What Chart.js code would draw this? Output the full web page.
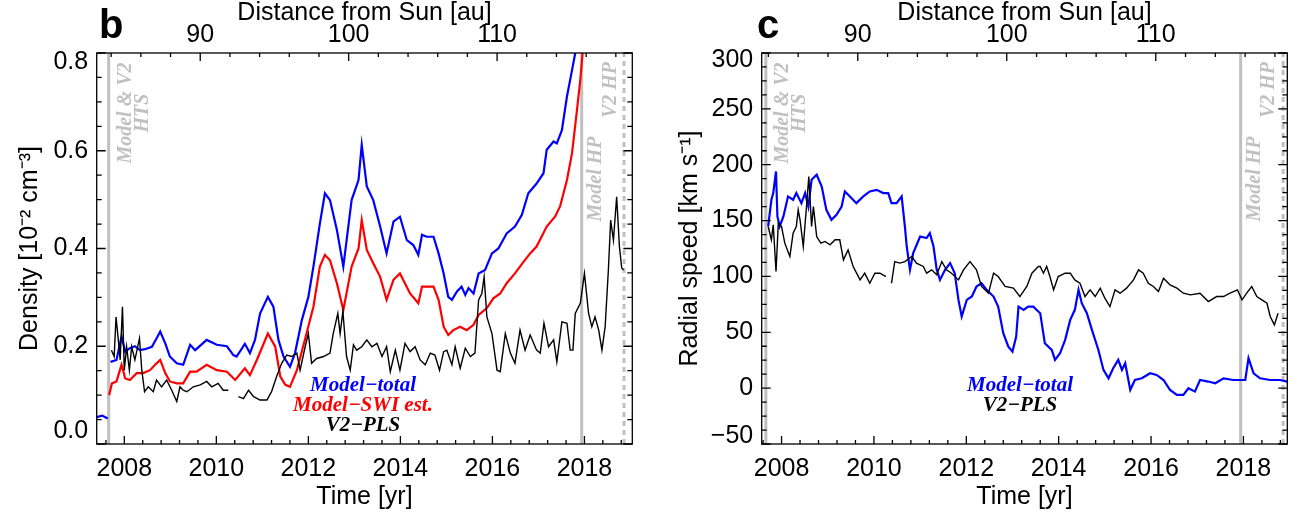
<!DOCTYPE html>
<html>
<head>
<meta charset="utf-8">
<script src="https://cdn.jsdelivr.net/npm/chart.js@4.4.1/dist/chart.umd.min.js"></script>
<style>
  html, body { margin: 0; padding: 0; background: #fff; }
  #wrap { position: relative; width: 1305px; height: 516px; }
  canvas { position: absolute; top: 0; }
  #cb { left: 0; }
  #cc { left: 650px; }
</style>
</head>
<body>
<div id="wrap">
  <canvas id="cb" width="650" height="516"></canvas>
  <canvas id="cc" width="655" height="516"></canvas>
</div>
<script>
'use strict';
var FONT = '"Liberation Sans", Arial, Helvetica, sans-serif';
var SERIF = '"Liberation Serif", "Times New Roman", serif';

// tick values
var yearTicks = [2008, 2010, 2012, 2014, 2016, 2018];
var distTicks = [90, 100, 110];
var densTicks = [0, 0.2, 0.4, 0.6, 0.8];
var speedTicks = [-50, 0, 50, 100, 150, 200, 250, 300];

// boundary crossings [yr]
var htsYear = 2007.66;
var modelHpYear = 2017.94;
var v2HpYear = 2018.86;

// Voyager 2 distance, roughly linear in time
var v2RefYear = 2009.65, v2RefAu = 90, v2AuPerYr = 3.1;
function yearAtAu(au) { return v2RefYear + (au - v2RefAu) / v2AuPerYr; }
function auAtYear(yr) { return v2RefAu + (yr - v2RefYear) * v2AuPerYr; }

// panel b: density [10^-2 cm^-3]
var densTotalYr = [2007.40, 2007.52, 2007.64, 2007.66, 2007.70, 2007.83, 2007.94, 2008.02, 2008.12, 2008.23, 2008.34, 2008.45, 2008.60, 2008.70, 2008.78, 2008.89, 2008.99, 2009.14, 2009.28, 2009.43, 2009.54, 2009.79, 2010.01, 2010.23, 2010.37, 2010.44, 2010.62, 2010.73, 2010.84, 2010.95, 2011.12, 2011.24, 2011.35, 2011.46, 2011.60, 2011.71, 2011.86, 2012.00, 2012.11, 2012.25, 2012.36, 2012.47, 2012.62, 2012.76, 2012.94, 2013.09, 2013.16, 2013.27, 2013.41, 2013.56, 2013.70, 2013.85, 2013.99, 2014.14, 2014.28, 2014.39, 2014.47, 2014.57, 2014.72, 2014.83, 2014.94, 2015.04, 2015.12, 2015.23, 2015.33, 2015.41, 2015.48, 2015.59, 2015.70, 2015.84, 2015.99, 2016.13, 2016.31, 2016.49, 2016.64, 2016.78, 2016.96, 2017.11, 2017.18, 2017.33, 2017.40, 2017.51, 2017.62, 2017.73, 2017.80, 2017.85];
var densTotalVal = [0.055, 0.058, 0.052, null, 0.168, 0.172, 0.220, 0.189, 0.196, 0.200, 0.192, 0.194, 0.199, 0.216, 0.230, 0.206, 0.179, 0.165, 0.162, 0.203, 0.192, 0.213, 0.203, 0.200, 0.182, 0.179, 0.205, 0.186, 0.213, 0.267, 0.301, 0.281, 0.213, 0.179, 0.158, 0.186, 0.254, 0.301, 0.363, 0.451, 0.513, 0.499, 0.438, 0.363, 0.499, 0.540, 0.612, 0.527, 0.499, 0.445, 0.390, 0.455, 0.465, 0.417, 0.407, 0.387, 0.428, 0.424, 0.424, 0.390, 0.349, 0.301, 0.295, 0.312, 0.322, 0.305, 0.319, 0.308, 0.349, 0.356, 0.390, 0.400, 0.431, 0.445, 0.469, 0.513, 0.533, 0.554, 0.602, 0.619, 0.615, 0.642, 0.711, 0.765, 0.800, 0.850];

var densSwiYr = [2007.67, 2007.73, 2007.83, 2007.94, 2008.02, 2008.12, 2008.27, 2008.41, 2008.56, 2008.70, 2008.78, 2008.89, 2008.99, 2009.14, 2009.28, 2009.43, 2009.57, 2009.79, 2010.01, 2010.23, 2010.41, 2010.62, 2010.73, 2010.88, 2011.12, 2011.28, 2011.39, 2011.50, 2011.60, 2011.75, 2011.96, 2012.11, 2012.25, 2012.36, 2012.47, 2012.62, 2012.76, 2012.94, 2013.09, 2013.16, 2013.27, 2013.41, 2013.56, 2013.70, 2013.85, 2013.99, 2014.21, 2014.39, 2014.47, 2014.72, 2014.83, 2014.94, 2015.04, 2015.15, 2015.30, 2015.44, 2015.59, 2015.70, 2015.88, 2016.02, 2016.17, 2016.31, 2016.49, 2016.68, 2016.82, 2016.96, 2017.18, 2017.36, 2017.47, 2017.62, 2017.73, 2017.83, 2017.91, 2017.96, 2017.99];
var densSwiVal = [0.100, 0.124, 0.128, 0.162, 0.134, 0.131, 0.145, 0.145, 0.151, 0.165, 0.172, 0.145, 0.128, 0.124, 0.124, 0.148, 0.148, 0.162, 0.151, 0.148, 0.131, 0.155, 0.141, 0.172, 0.226, 0.199, 0.138, 0.121, 0.117, 0.151, 0.226, 0.281, 0.363, 0.387, 0.376, 0.329, 0.274, 0.363, 0.400, 0.458, 0.397, 0.370, 0.342, 0.295, 0.336, 0.349, 0.308, 0.288, 0.322, 0.322, 0.295, 0.240, 0.223, 0.233, 0.240, 0.233, 0.244, 0.264, 0.278, 0.298, 0.308, 0.329, 0.349, 0.373, 0.390, 0.404, 0.445, 0.465, 0.486, 0.540, 0.595, 0.677, 0.745, 0.800, 0.860];

var densPlsYr = [2007.72, 2007.78, 2007.82, 2007.87, 2007.91, 2007.96, 2008.00, 2008.05, 2008.11, 2008.16, 2008.23, 2008.33, 2008.38, 2008.44, 2008.52, 2008.63, 2008.70, 2008.81, 2008.92, 2009.03, 2009.14, 2009.21, 2009.28, 2009.36, 2009.50, 2009.65, 2009.79, 2009.90, 2010.04, 2010.15, 2010.26, 2010.37, 2010.48, 2010.59, 2010.70, 2010.81, 2010.95, 2011.10, 2011.20, 2011.31, 2011.42, 2011.53, 2011.64, 2011.75, 2011.82, 2011.93, 2012.00, 2012.07, 2012.18, 2012.33, 2012.47, 2012.54, 2012.64, 2012.69, 2012.75, 2012.83, 2012.91, 2012.98, 2013.05, 2013.16, 2013.27, 2013.38, 2013.49, 2013.60, 2013.70, 2013.78, 2013.89, 2013.99, 2014.10, 2014.21, 2014.32, 2014.43, 2014.54, 2014.65, 2014.75, 2014.85, 2014.94, 2015.01, 2015.12, 2015.19, 2015.30, 2015.41, 2015.52, 2015.62, 2015.70, 2015.77, 2015.82, 2015.88, 2015.99, 2016.10, 2016.17, 2016.28, 2016.39, 2016.49, 2016.60, 2016.71, 2016.82, 2016.96, 2017.04, 2017.12, 2017.22, 2017.33, 2017.40, 2017.51, 2017.62, 2017.69, 2017.75, 2017.80, 2017.91, 2018.00, 2018.09, 2018.16, 2018.23, 2018.31, 2018.38, 2018.45, 2018.52, 2018.57, 2018.63, 2018.70, 2018.76, 2018.81, 2018.85];
var densPlsVal = [0.192, 0.179, 0.260, 0.213, 0.172, 0.281, 0.151, 0.199, 0.151, 0.199, 0.172, 0.216, 0.151, 0.107, 0.117, 0.107, 0.131, 0.117, 0.131, 0.110, 0.087, 0.117, 0.110, 0.107, 0.117, 0.121, 0.128, 0.117, 0.124, 0.110, 0.110, null, 0.097, 0.093, 0.110, 0.097, 0.090, 0.090, 0.107, 0.138, 0.165, 0.182, 0.179, 0.186, 0.151, 0.199, 0.226, 0.165, 0.175, 0.179, 0.186, 0.226, 0.267, 0.226, 0.271, 0.179, 0.151, 0.203, 0.192, 0.199, 0.213, 0.199, 0.206, 0.179, 0.199, 0.148, 0.192, 0.151, 0.206, 0.189, 0.199, 0.172, 0.162, 0.186, 0.182, 0.151, 0.189, 0.192, 0.162, 0.199, 0.155, 0.196, 0.179, 0.186, 0.295, 0.308, 0.342, 0.260, 0.226, 0.151, 0.148, 0.226, 0.186, 0.165, 0.233, 0.192, 0.223, 0.192, 0.186, 0.247, 0.199, 0.213, 0.168, 0.250, 0.247, 0.192, 0.192, 0.267, 0.288, 0.349, 0.267, 0.240, 0.260, 0.233, 0.192, 0.240, 0.356, 0.458, 0.417, 0.506, 0.404, 0.360, 0.356];

// panel c: radial speed [km/s]
var speedTotalYr = [2007.71, 2007.78, 2007.82, 2007.88, 2007.91, 2007.96, 2008.04, 2008.14, 2008.25, 2008.32, 2008.43, 2008.51, 2008.58, 2008.65, 2008.76, 2008.87, 2008.97, 2009.08, 2009.19, 2009.30, 2009.37, 2009.48, 2009.62, 2009.77, 2009.91, 2010.06, 2010.20, 2010.31, 2010.38, 2010.49, 2010.60, 2010.67, 2010.71, 2010.78, 2010.85, 2011.00, 2011.14, 2011.21, 2011.29, 2011.36, 2011.43, 2011.54, 2011.65, 2011.75, 2011.83, 2011.90, 2012.01, 2012.12, 2012.22, 2012.33, 2012.44, 2012.59, 2012.69, 2012.80, 2012.91, 2013.00, 2013.08, 2013.13, 2013.24, 2013.34, 2013.45, 2013.56, 2013.60, 2013.70, 2013.85, 2013.92, 2014.03, 2014.14, 2014.25, 2014.35, 2014.43, 2014.50, 2014.61, 2014.72, 2014.86, 2014.97, 2015.08, 2015.18, 2015.29, 2015.37, 2015.44, 2015.55, 2015.65, 2015.80, 2015.98, 2016.12, 2016.27, 2016.41, 2016.56, 2016.70, 2016.81, 2016.95, 2017.06, 2017.24, 2017.39, 2017.57, 2017.78, 2017.89, 2018.04, 2018.11, 2018.22, 2018.36, 2018.58, 2018.79, 2018.95];
var speedTotalVal = [144.7, 168.6, 174.6, 194.0, 153.7, 144.7, 153.7, 171.6, 168.6, 174.6, 165.6, 174.6, 162.6, 186.5, 191.0, 180.5, 159.6, 150.7, 155.2, 162.6, 176.1, 171.6, 165.6, 171.6, 176.1, 177.5, 174.6, 174.6, 165.6, 165.6, 171.6, 144.7, 126.8, 105.9, 120.8, 135.7, 134.3, 138.7, 126.8, 105.9, 96.9, 105.9, 111.9, 102.9, 79.0, 64.1, 79.0, 82.0, 91.0, 93.9, 88.0, 82.0, 73.0, 49.2, 37.2, 32.7, 46.2, 73.0, 70.1, 73.0, 73.0, 68.6, 67.1, 40.2, 34.2, 25.3, 31.2, 43.2, 61.1, 70.1, 88.0, 76.0, 67.1, 52.1, 34.2, 16.3, 8.8, 17.8, 25.3, 16.3, 22.3, -1.6, 7.3, 8.8, 13.3, 11.8, 7.3, -1.6, -6.1, -6.1, -0.1, -3.1, 7.3, 5.9, 4.4, 8.8, 7.3, 7.3, 7.3, 26.8, 13.3, 8.8, 7.3, 7.3, 5.9];

var speedPlsYr = [2007.71, 2007.78, 2007.82, 2007.88, 2007.93, 2008.00, 2008.07, 2008.18, 2008.25, 2008.32, 2008.36, 2008.40, 2008.47, 2008.54, 2008.59, 2008.65, 2008.69, 2008.76, 2008.85, 2008.94, 2009.05, 2009.16, 2009.26, 2009.34, 2009.44, 2009.55, 2009.70, 2009.80, 2009.91, 2010.02, 2010.13, 2010.26, 2010.32, 2010.38, 2010.45, 2010.56, 2010.67, 2010.82, 2010.92, 2011.07, 2011.14, 2011.25, 2011.36, 2011.47, 2011.57, 2011.68, 2011.83, 2011.94, 2012.08, 2012.22, 2012.33, 2012.48, 2012.59, 2012.69, 2012.84, 2013.02, 2013.16, 2013.31, 2013.42, 2013.56, 2013.60, 2013.67, 2013.74, 2013.81, 2013.89, 2013.99, 2014.14, 2014.25, 2014.35, 2014.46, 2014.57, 2014.68, 2014.79, 2014.90, 2015.00, 2015.11, 2015.22, 2015.33, 2015.47, 2015.62, 2015.73, 2015.83, 2015.94, 2016.05, 2016.16, 2016.27, 2016.41, 2016.56, 2016.70, 2016.85, 2017.06, 2017.24, 2017.42, 2017.57, 2017.71, 2017.87, 2017.97, 2018.07, 2018.18, 2018.29, 2018.40, 2018.51, 2018.58, 2018.67, 2018.75];
var speedPlsVal = [144.7, 132.8, 146.2, 104.4, 147.7, 144.7, 129.8, 117.8, 138.7, 144.7, 159.6, 150.7, 126.8, 162.6, 189.5, 144.7, 162.6, 135.7, 129.8, 131.3, 128.3, 132.8, 132.8, 114.8, 123.8, 108.9, 96.9, 102.9, 93.9, 102.9, 102.9, 99.9, null, 93.9, 113.3, 111.9, 113.3, 117.8, 111.9, 108.9, 102.9, 105.9, 101.4, 113.3, 105.9, 102.9, 96.9, 105.9, 113.3, 105.9, 91.0, 85.0, 102.9, 99.9, 91.0, 89.5, 82.0, 91.0, 102.9, 108.9, 108.9, 102.9, 108.9, 99.9, 88.0, 99.9, 102.9, 102.9, 96.9, 93.9, 82.0, 88.0, 82.0, 89.5, 80.5, 73.0, 88.0, 85.0, 89.5, 96.9, 105.9, 102.9, 93.9, 91.0, 86.5, 98.4, 92.5, 89.5, 85.0, 83.5, 85.0, 77.5, 82.0, 82.0, 85.0, 88.0, 79.0, 85.0, 91.0, 82.0, 79.0, 76.0, 64.1, 56.6, 67.1];

function pts(xs, ys) {
    return xs.map(function (x, i) { return { x: x, y: ys[i] }; });
}

function series(xs, ys, color, width) {
    return { data: pts(xs, ys), borderColor: color, borderWidth: width, pointRadius: 0, tension: 0, spanGaps: false };
}

function vline(year, yMin, yMax, dashed) {
    return {
        data: [{ x: year, y: yMin }, { x: year, y: yMax }],
        borderColor: '#c0c0c0', borderWidth: 3, borderDash: dashed ? [5, 4] : [], pointRadius: 0
    };
}

// box frame with inward ticks on all four sides
var frameTicks = {
    id: 'frameTicks',
    afterDatasetsDraw: function (chart, args, o) {
        var ctx = chart.ctx, a = chart.chartArea;
        var xs = chart.scales.x, ys = chart.scales.y;
        ctx.save();
        ctx.strokeStyle = '#000';
        ctx.lineWidth = 1.3;
        ctx.strokeRect(a.left, a.top, a.right - a.left, a.bottom - a.top);
        ctx.beginPath();
        // time ticks (bottom)
        for (var k = Math.ceil((xs.min - 2008) / 0.4); 2008 + k * 0.4 <= xs.max; k++) {
            var px = xs.getPixelForValue(2008 + k * 0.4);
            var len = (k % 5 === 0) ? 8 : 4;
            ctx.moveTo(px, a.bottom); ctx.lineTo(px, a.bottom - len);
        }
        // distance ticks (top)
        for (var au = Math.ceil(auAtYear(xs.min) / 2) * 2; au <= auAtYear(xs.max); au += 2) {
            var tx = xs.getPixelForValue(yearAtAu(au));
            var tl = (au % 10 === 0) ? 8 : 4;
            ctx.moveTo(tx, a.top); ctx.lineTo(tx, a.top + tl);
        }
        // value ticks (left and right)
        for (var j = Math.ceil(ys.min / o.yMinor - 1e-6); j * o.yMinor <= ys.max + 1e-6; j++) {
            var v = j * o.yMinor;
            var py = ys.getPixelForValue(v);
            var major = Math.abs(v / o.yMajor - Math.round(v / o.yMajor)) < 1e-6;
            var yl = major ? 9 : 5;
            ctx.moveTo(a.left, py); ctx.lineTo(a.left + yl, py);
            ctx.moveTo(a.right, py); ctx.lineTo(a.right - yl, py);
        }
        ctx.stroke();
        ctx.restore();
    }
};

// panel letter, boundary labels and the text legend
var panelText = {
    id: 'panelText',
    afterDraw: function (chart, args, o) {
        var ctx = chart.ctx, xs = chart.scales.x;
        ctx.save();
        ctx.fillStyle = '#000';
        ctx.font = 'bold 40px ' + FONT;
        ctx.textAlign = 'left';
        ctx.textBaseline = 'alphabetic';
        ctx.fillText(o.letter, o.letterX, 38);

        ctx.font = 'bold italic 20px ' + SERIF;
        ctx.fillStyle = '#c0c0c0';
        ctx.textAlign = 'center';
        ctx.textBaseline = 'middle';
        o.marks.forEach(function (m) {
            m.lines.forEach(function (t, i) {
                ctx.save();
                ctx.translate(xs.getPixelForValue(m.year) + m.dx[i], m.y);
                ctx.rotate(-Math.PI / 2);
                ctx.fillText(t, 0, 0);
                ctx.restore();
            });
        });

        ctx.font = 'bold italic 21px ' + SERIF;
        o.legend.forEach(function (l, i) {
            ctx.fillStyle = l.color;
            ctx.fillText(l.text, o.legendX, o.legendY + i * 20);
        });
        ctx.restore();
    }
};

Chart.defaults.font.family = FONT;
Chart.defaults.color = '#000';

function makePanel(id, p) {
    var tickFont = { family: FONT, size: 25 };
    var nY = p.yTicks.length;
    return new Chart(document.getElementById(id), {
        type: 'line',
        data: {
            datasets: p.series.concat([
                vline(htsYear, p.yMin, p.yMax, false),
                vline(modelHpYear, p.yMin, p.yMax, false),
                vline(v2HpYear, p.yMin, p.yMax, true)
            ])
        },
        options: {
            responsive: false,
            animation: false,
            layout: { padding: { left: 0, right: p.padRight, top: 0, bottom: 0 } },
            plugins: {
                legend: { display: false },
                tooltip: { enabled: false },
                frameTicks: { yMajor: p.yMajor, yMinor: p.yMinor },
                panelText: p.text
            },
            scales: {
                x: {
                    type: 'linear', position: 'bottom', bounds: 'data',
                    min: p.xMin, max: p.xMax,
                    grid: { display: false, drawTicks: false },
                    border: { display: false },
                    afterBuildTicks: function (s) { s.ticks = yearTicks.map(function (v) { return { value: v }; }); },
                    afterFit: function (s) { s.height = 72; },
                    ticks: { autoSkip: false, maxRotation: 0, padding: 10, font: tickFont, callback: function (v) { return String(v); } },
                    title: { display: true, text: 'Time [yr]', font: tickFont, padding: { top: 0, bottom: 4 } }
                },
                x2: {
                    type: 'linear', position: 'top', bounds: 'data',
                    min: p.xMin, max: p.xMax,
                    grid: { display: false, drawTicks: false },
                    border: { display: false },
                    afterBuildTicks: function (s) { s.ticks = distTicks.map(function (d) { return { value: yearAtAu(d) }; }); },
                    afterFit: function (s) { s.height = 53; },
                    ticks: { autoSkip: false, maxRotation: 0, padding: 3, font: tickFont, callback: function (v, i) { return String(distTicks[i]); } },
                    title: { display: true, text: 'Distance from Sun [au]', font: tickFont, padding: { top: -2, bottom: 0 } }
                },
                y: {
                    type: 'linear', position: 'left', bounds: 'data',
                    min: p.yMin, max: p.yMax,
                    grid: { display: false, drawTicks: false },
                    border: { display: false },
                    afterBuildTicks: function (s) { s.ticks = p.yTicks.map(function (v) { return { value: v }; }); },
                    afterFit: function (s) { s.width = p.yWidth; },
                    ticks: {
                        autoSkip: false, padding: 8.5,
                        // end labels sit inside the box: push them in with an empty second line
                        font: function (c) {
                            var lh = c.index === 0 ? p.shiftBottom * 2 / 25 : (c.index === nY - 1 ? p.shiftTop * 2 / 25 : 1.2);
                            return { family: FONT, size: 25, lineHeight: lh };
                        },
                        callback: function (v, i) {
                            var s = p.yFmt(v);
                            if (i === 0) return [s, ''];
                            if (i === nY - 1) return ['', s];
                            return s;
                        }
                    },
                    title: { display: true, text: p.yTitle, font: tickFont, padding: { top: p.yTitlePad, bottom: 0 } }
                }
            }
        },
        plugins: [frameTicks, panelText]
    });
}

makePanel('cb', {
    xMin: 2007.4, xMax: 2019.04,
    yMin: 0, yMax: 0.8, yTicks: densTicks, yMajor: 0.2, yMinor: 0.05,
    yFmt: function (v) { return v.toFixed(1); },
    shiftBottom: 13, shiftTop: 9,
    yTitle: 'Density [10\u207B\u00B2 cm\u207B\u00B3]', yWidth: 96.7, yTitlePad: 15.6,
    padRight: 17.7,
    series: [
        series(densPlsYr, densPlsVal, '#000', 1.4),
        series(densTotalYr, densTotalVal, '#0000ff', 2.2),
        series(densSwiYr, densSwiVal, '#ff0000', 2.2)
    ],
    text: {
        letter: 'b', letterX: 99,
        marks: [
            { year: htsYear, dx: [17, 34], y: 113, lines: ['Model & V2', 'HTS'] },
            { year: modelHpYear, dx: [14], y: 179, lines: ['Model HP'] },
            { year: v2HpYear, dx: [-13], y: 90, lines: ['V2 HP'] }
        ],
        legendX: 363, legendY: 386,
        legend: [
            { text: 'Model\u2212total', color: '#0000ff' },
            { text: 'Model\u2212SWI est.', color: '#ff0000' },
            { text: 'V2\u2212PLS', color: '#000' }
        ]
    }
});

makePanel('cc', {
    xMin: 2007.57, xMax: 2018.95,
    yMin: -50, yMax: 300, yTicks: speedTicks, yMajor: 50, yMinor: 12.5,
    yFmt: function (v) { return v < 0 ? '\u2212' + Math.abs(v) : String(v); },
    shiftBottom: 8, shiftTop: 7,
    yTitle: 'Radial speed [km s\u207B\u00B9]', yWidth: 111.7, yTitlePad: 25.6,
    padRight: 17.7,
    series: [
        series(speedPlsYr, speedPlsVal, '#000', 1.4),
        series(speedTotalYr, speedTotalVal, '#0000ff', 2.2)
    ],
    text: {
        letter: 'c', letterX: 107,
        marks: [
            { year: htsYear, dx: [17, 34], y: 113, lines: ['Model & V2', 'HTS'] },
            { year: modelHpYear, dx: [14], y: 179, lines: ['Model HP'] },
            { year: v2HpYear, dx: [-14], y: 90, lines: ['V2 HP'] }
        ],
        legendX: 370, legendY: 386,
        legend: [
            { text: 'Model\u2212total', color: '#0000ff' },
            { text: 'V2\u2212PLS', color: '#000' }
        ]
    }
});
</script>
</body>
</html>
